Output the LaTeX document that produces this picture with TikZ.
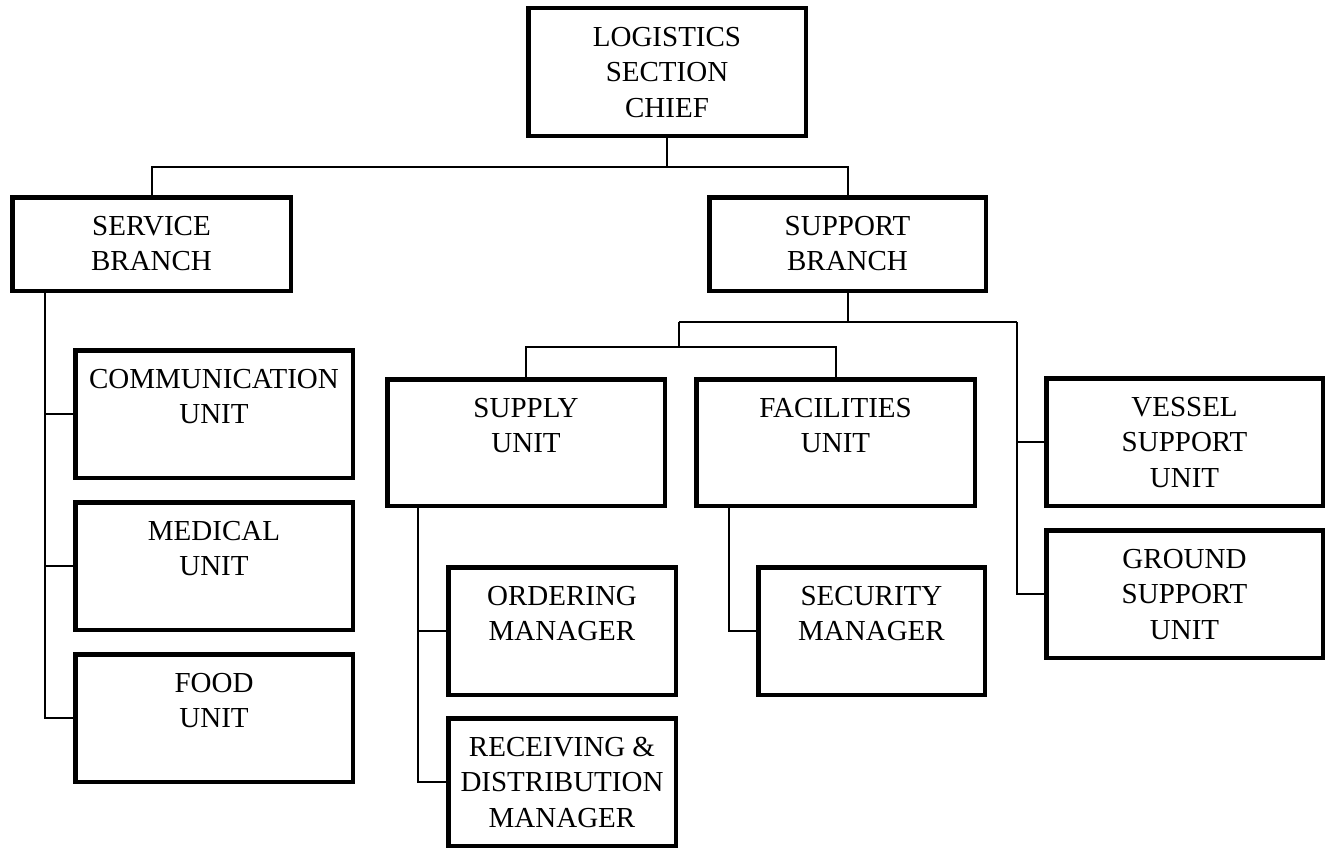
\documentclass[tikz,border=0pt]{standalone}
\usepackage{fontspec}
\setmainfont{Liberation Serif}
\newcommand\capstrut{\rule{0pt}{20pt}}
\begin{document}
\begin{tikzpicture}[x=1pt,y=-1pt,
  orgbox/.style 2 args={draw, line width=4.5pt, inner sep=0pt, outer sep=2.25pt,
    minimum width=#1pt-4.5pt, minimum height=#2pt-4.5pt},
  boxtext/.style={anchor=north, align=center, inner sep=0pt,
    font=\fontsize{29pt}{35.5pt}\selectfont},
  link/.style={draw, line width=2pt}]
\useasboundingbox (0,0) rectangle (1332,851);

% boxes
\node[orgbox={282}{132}] (chief) at (667,72) {};
\node[orgbox={283}{98}] (service) at (151.5,244) {};
\node[orgbox={281}{98}] (support) at (847.5,244) {};
\node[orgbox={282}{132}] (comm) at (214,414) {};
\node[orgbox={282}{132}] (medical) at (214,566) {};
\node[orgbox={282}{132}] (food) at (214,718) {};
\node[orgbox={282}{131}] (supply) at (526,442.5) {};
\node[orgbox={283}{131}] (facilities) at (835.5,442.5) {};
\node[orgbox={281}{132}] (vessel) at (1184.5,442) {};
\node[orgbox={281}{132}] (ground) at (1184.5,594) {};
\node[orgbox={232}{132}] (ordering) at (562,631) {};
\node[orgbox={232}{132}] (receiving) at (562,782) {};
\node[orgbox={231}{132}] (security) at (871.5,631) {};

% labels
\node[boxtext] (chief-t) at ([yshift=-20pt]chief.north) {\capstrut LOGISTICS\\SECTION\\CHIEF};
\node[boxtext] (service-t) at ([yshift=-20pt]service.north) {\capstrut SERVICE\\BRANCH};
\node[boxtext] (support-t) at ([yshift=-20pt]support.north) {\capstrut SUPPORT\\BRANCH};
\node[boxtext] (comm-t) at ([yshift=-20pt]comm.north) {\capstrut COMMUNICATION\\UNIT};
\node[boxtext] (medical-t) at ([yshift=-20pt]medical.north) {\capstrut MEDICAL\\UNIT};
\node[boxtext] (food-t) at ([yshift=-20pt]food.north) {\capstrut FOOD\\UNIT};
\node[boxtext] (supply-t) at ([yshift=-20pt]supply.north) {\capstrut SUPPLY\\UNIT};
\node[boxtext] (facilities-t) at ([yshift=-20pt]facilities.north) {\capstrut FACILITIES\\UNIT};
\node[boxtext] (vessel-t) at ([yshift=-20pt]vessel.north) {\capstrut VESSEL\\SUPPORT\\UNIT};
\node[boxtext] (ground-t) at ([yshift=-20pt]ground.north) {\capstrut GROUND\\SUPPORT\\UNIT};
\node[boxtext] (ordering-t) at ([yshift=-20pt]ordering.north) {\capstrut ORDERING\\MANAGER};
\node[boxtext] (receiving-t) at ([yshift=-20pt]receiving.north) {\capstrut RECEIVING \&\\DISTRIBUTION\\MANAGER};
\node[boxtext] (security-t) at ([yshift=-20pt]security.north) {\capstrut SECURITY\\MANAGER};

% chief to branches
\coordinate (topbar) at (0,167);
\draw[link] (chief.south) -- (chief.south |- topbar);
\draw[link] (service.north) |- (topbar -| chief.south) -| (support.north);

% service branch spine
\coordinate (svc) at (45,0);
\draw[link] (svc |- service.south) |- (food.west);
\draw[link] (svc |- comm.west) -- (comm.west);
\draw[link] (svc |- medical.west) -- (medical.west);

% support branch tree
\coordinate (supbar) at (0,322);
\coordinate (splitL) at (679,322);
\coordinate (splitR) at (1017,322);
\coordinate (subbar) at (679,347);
\draw[link] (support.south) -- (support.south |- supbar);
\draw[link] (splitL) -- (splitR);
\draw[link] (splitL) -- (subbar);
\draw[link] (supply.north) |- (subbar) -| (facilities.north);
\draw[link] (splitR) |- (ground.west);
\draw[link] (splitR |- vessel.west) -- (vessel.west);

% supply unit spine
\coordinate (sup) at (418,0);
\draw[link] (sup |- supply.south) |- (receiving.west);
\draw[link] (sup |- ordering.west) -- (ordering.west);

% facilities unit spine
\coordinate (fac) at (729,0);
\draw[link] (fac |- facilities.south) |- (security.west);
\end{tikzpicture}
\end{document}
